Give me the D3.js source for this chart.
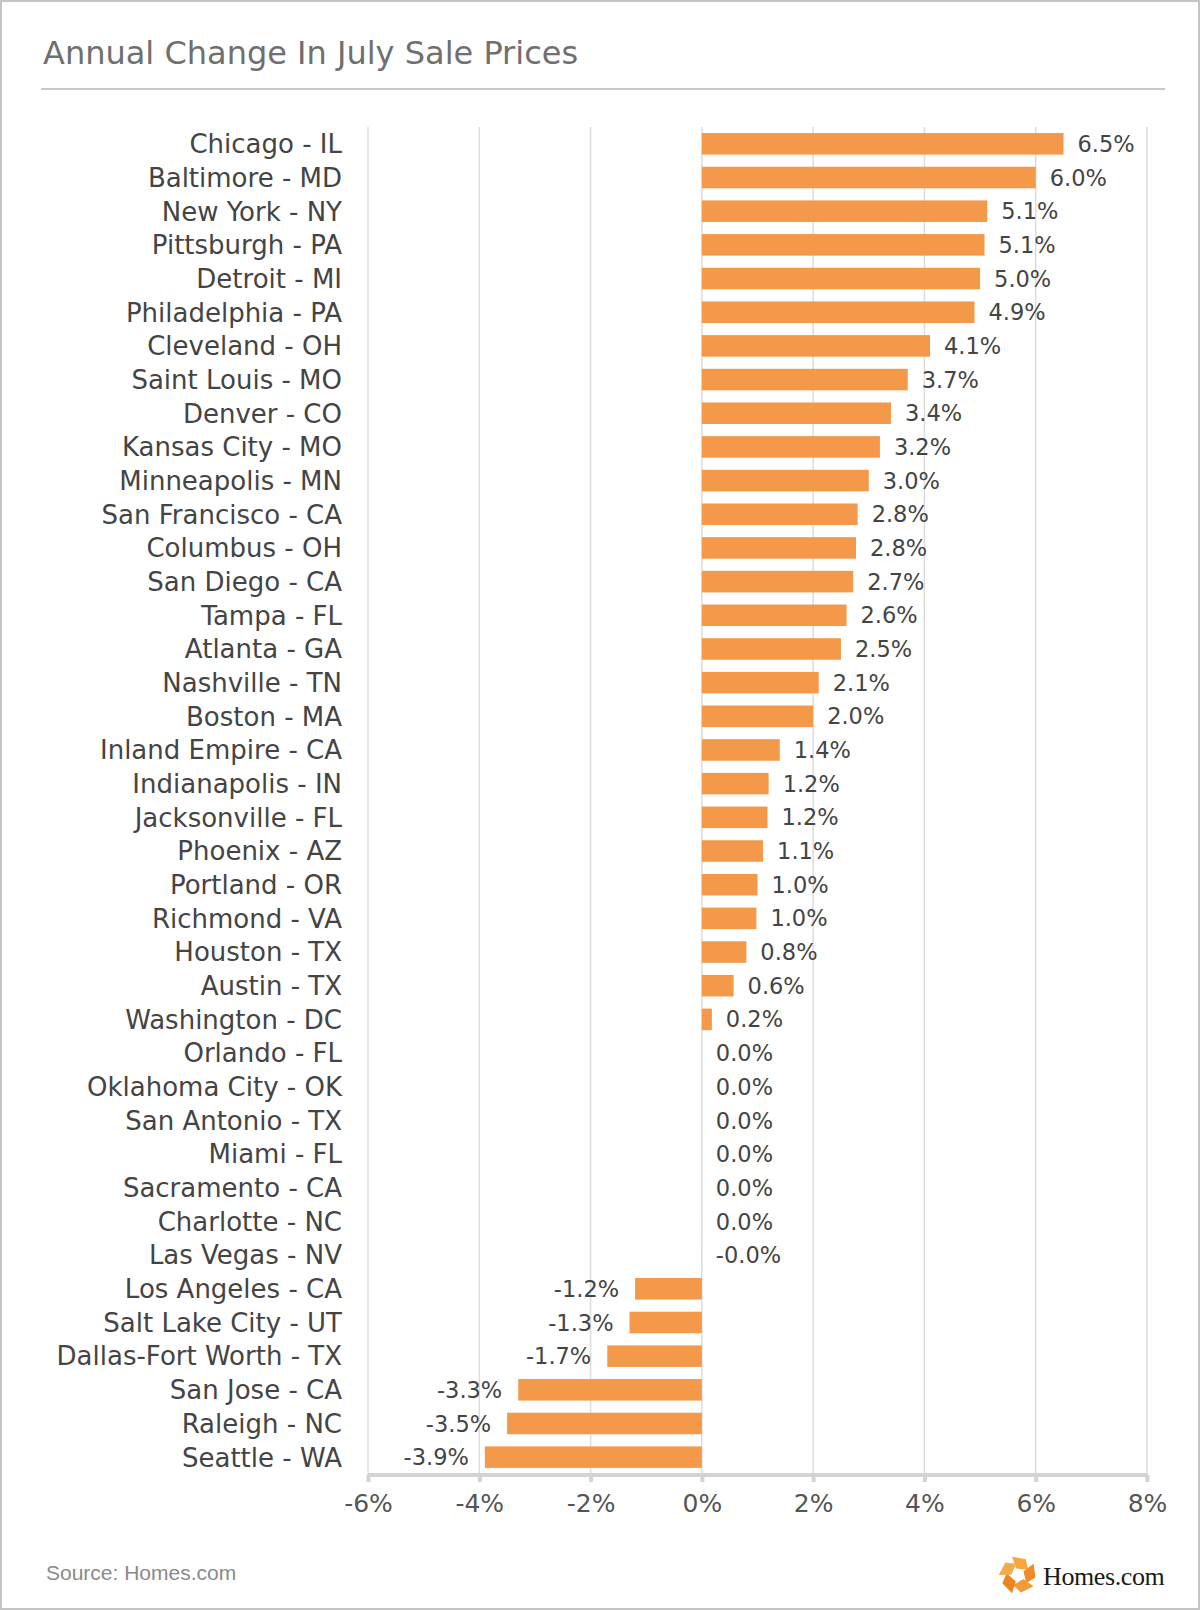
<!DOCTYPE html>
<html>
<head>
<meta charset="utf-8">
<script src="https://cdn.jsdelivr.net/npm/d3@7"></script>
<style>
  body { margin: 0; background: #fff; }
</style>
</head>
<body>
<script>
// data
var cities = ["Chicago - IL", "Baltimore - MD", "New York - NY", "Pittsburgh - PA", "Detroit - MI",
              "Philadelphia - PA", "Cleveland - OH", "Saint Louis - MO", "Denver - CO", "Kansas City - MO",
              "Minneapolis - MN", "San Francisco - CA", "Columbus - OH", "San Diego - CA", "Tampa - FL",
              "Atlanta - GA", "Nashville - TN", "Boston - MA", "Inland Empire - CA", "Indianapolis - IN",
              "Jacksonville - FL", "Phoenix - AZ", "Portland - OR", "Richmond - VA", "Houston - TX",
              "Austin - TX", "Washington - DC", "Orlando - FL", "Oklahoma City - OK", "San Antonio - TX",
              "Miami - FL", "Sacramento - CA", "Charlotte - NC", "Las Vegas - NV", "Los Angeles - CA",
              "Salt Lake City - UT", "Dallas-Fort Worth - TX", "San Jose - CA", "Raleigh - NC", "Seattle - WA"];
var changes = [6.5, 6.0, 5.13, 5.08, 5.0,
               4.9, 4.1, 3.7, 3.4, 3.2,
               3.0, 2.8, 2.77, 2.72, 2.6,
               2.5, 2.1, 2.0, 1.4, 1.2,
               1.18, 1.1, 1.0, 0.98, 0.8,
               0.57, 0.18, 0.0, 0.0, 0.0,
               0.0, 0.0, 0.0, -0.001, -1.2,
               -1.3, -1.7, -3.3, -3.5, -3.9];
var xTicks = [-6, -4, -2, 0, 2, 4, 6, 8];

var w = 1200;
var h = 1610;
var sans = "DejaVu Sans, sans-serif";

var svg = d3.select("body")
    .append("svg")
    .attr("width", w)
    .attr("height", h);

// frame
svg.append("rect")
    .attr("x", 1).attr("y", 1)
    .attr("width", w - 2).attr("height", h - 2)
    .attr("fill", "#fff")
    .attr("stroke", "#c4c4c4")
    .attr("stroke-width", 2);

// title
svg.append("text")
    .attr("x", 43)
    .attr("y", 64)
    .style("font-family", sans)
    .attr("font-size", "32px")
    .attr("fill", "#6f6f6f")
    .text("Annual Change In July Sale Prices");

svg.append("line")
    .attr("x1", 41).attr("x2", 1165)
    .attr("y1", 89).attr("y2", 89)
    .attr("stroke", "#c8c8c8")
    .attr("stroke-width", 2);

var x = d3.scaleLinear()
    .domain([-6, 8])
    .range([368, 1147]);

var y = d3.scaleBand()
    .domain(cities)
    .range([127, 1474])
    .paddingInner(0.36)
    .paddingOuter(0.18);

// gridlines
svg.selectAll("line.grid")
   .data(xTicks)
   .enter()
   .append("line")
   .attr("class", "grid")
   .attr("x1", function(d) { return x(d); })
   .attr("x2", function(d) { return x(d); })
   .attr("y1", 127)
   .attr("y2", 1475)
   .attr("stroke", "#dcdcdc")
   .attr("stroke-width", 1.5);

// bottom axis
var xAxis = d3.axisBottom(x)
    .tickValues(xTicks)
    .tickSize(7)
    .tickPadding(12)
    .tickFormat(function(d) { return d + "%"; });

var axisG = svg.append("g")
    .attr("transform", "translate(0,1475)")
    .call(xAxis);

axisG.select(".domain")
    .attr("stroke", "#d3d3d3")
    .attr("stroke-width", 4)
    .attr("d", "M" + x(-6) + ",0H" + x(8));
axisG.selectAll(".tick line")
    .attr("stroke", "#d3d3d3")
    .attr("stroke-width", 4);
axisG.selectAll(".tick text")
    .style("font-family", sans)
    .attr("font-size", "25px")
    .attr("fill", "#555");

// bars
svg.selectAll("rect.bar")
   .data(changes)
   .enter()
   .append("rect")
   .attr("class", "bar")
   .attr("x", function(d) { return x(Math.min(d, 0)); })
   .attr("y", function(d, i) { return y(cities[i]); })
   .attr("width", function(d) { return Math.abs(x(d) - x(0)); })
   .attr("height", y.bandwidth())
   .attr("fill", "#f4994a");

// category labels
svg.selectAll("text.cat")
   .data(cities)
   .enter()
   .append("text")
   .attr("class", "cat")
   .attr("x", 342)
   .attr("y", function(d) { return y(d) + y.bandwidth() / 2; })
   .attr("dy", "0.36em")
   .attr("text-anchor", "end")
   .style("font-family", sans)
   .attr("font-size", "26px")
   .attr("fill", "#444")
   .text(function(d) { return d; });

// value labels
function fmt(v) {
    return (v < 0 ? "-" : "") + Math.abs(v).toFixed(1) + "%";
}
svg.selectAll("text.val")
   .data(changes)
   .enter()
   .append("text")
   .attr("class", "val")
   .attr("x", function(d) {
       return d < -0.05 ? x(d) - 16 : x(Math.max(d, 0)) + 14;
   })
   .attr("y", function(d, i) { return y(cities[i]) + y.bandwidth() / 2; })
   .attr("dy", "0.36em")
   .attr("text-anchor", function(d) { return d < -0.05 ? "end" : "start"; })
   .style("font-family", sans)
   .attr("font-size", "22.5px")
   .attr("fill", "#444")
   .text(function(d) { return fmt(d); });

// footer
svg.append("text")
    .attr("x", 46)
    .attr("y", 1580)
    .style("font-family", "Liberation Sans, Arial, sans-serif")
    .attr("font-size", "21px")
    .attr("fill", "#8a8a8a")
    .text("Source: Homes.com");

// logo
var logo = svg.append("g")
    .attr("transform", "translate(1018,1575)");
var pieceColors = ["#f7a640", "#f08c25", "#f39a36", "#ec8422", "#f5ab48"];
logo.selectAll("path")
    .data(pieceColors)
    .enter()
    .append("path")
    .attr("d", "M-9,-17L5,-17L9,-7L-3,-6Z")
    .attr("transform", function(d, i) { return "rotate(" + (i * 72 + 10) + ")"; })
    .attr("fill", function(d) { return d; });

svg.append("text")
    .attr("x", 1043)
    .attr("y", 1585)
    .style("font-family", "Liberation Serif, Times New Roman, serif")
    .attr("font-size", "26px")
    .attr("letter-spacing", "-0.4px")
    .attr("fill", "#1a1a1a")
    .text("Homes.com");
</script>
</body>
</html>
